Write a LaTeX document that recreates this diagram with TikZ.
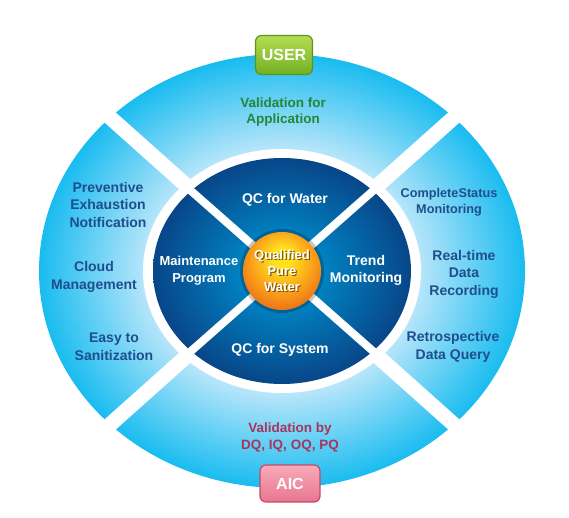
\documentclass[tikz,border=0pt]{standalone}
\usepackage{fontspec}
\setmainfont{Liberation Sans}
\usepackage{xcolor}
\usepackage{tikz}

\definecolor{ringlight}{RGB}{185,230,250}
\definecolor{ringdark}{RGB}{25,188,240}
\definecolor{corelight}{RGB}{0,130,194}
\definecolor{coredark}{RGB}{8,70,136}
\definecolor{balllight}{RGB}{255,226,30}
\definecolor{ballmid}{RGB}{248,150,25}
\definecolor{balldark}{RGB}{230,98,18}
\definecolor{labelblue}{RGB}{30,78,140}
\definecolor{labelgreen}{RGB}{35,135,55}
\definecolor{labelred}{RGB}{168,52,92}
\definecolor{usertop}{RGB}{180,220,82}
\definecolor{userbottom}{RGB}{116,176,36}
\definecolor{userrim}{RGB}{92,148,28}
\definecolor{aictop}{RGB}{248,170,184}
\definecolor{aicbottom}{RGB}{232,118,144}
\definecolor{aicrim}{RGB}{196,72,106}

\pgfdeclareradialshading{ringshade}{\pgfpointorigin}{color(0bp)=(ringlight); color(14bp)=(ringlight); color(25bp)=(ringdark); color(50bp)=(ringdark)}
\pgfdeclareradialshading{coreshade}{\pgfpointorigin}{color(0bp)=(corelight); color(8bp)=(corelight); color(25bp)=(coredark); color(50bp)=(coredark)}
\pgfdeclareradialshading{ballshade}{\pgfpoint{0bp}{10bp}}{color(0bp)=(balllight); color(6bp)=(balllight); color(22bp)=(ballmid); color(33bp)=(balldark); color(50bp)=(balldark)}

\begin{document}
\begin{tikzpicture}[x=1pt,y=1pt,
    sidelabel/.style={text=labelblue, align=center, font=\bfseries\fontsize{14}{17.5}\selectfont},
    corelabel/.style={text=white, align=center, font=\bfseries\fontsize{14}{17}\selectfont},
    balllabel/.style={align=center, font=\bfseries\fontsize{13}{16}\selectfont},
    button/.style={rounded corners=6, draw, line width=1.2, text=white, font=\bfseries\fontsize{16}{16}\selectfont}]
    \useasboundingbox (0,0) rectangle (569,518);
    \coordinate (c) at (282,247);

    % outer ring and gaps
    \shade[shading=ringshade] (c) ellipse [x radius=243, y radius=217];
    \draw[white, line width=15] (c) -- ++(45:262 and 234);
    \draw[white, line width=15] (c) -- ++(135:262 and 234);
    \draw[white, line width=15] (c) -- ++(225:262 and 234);
    \draw[white, line width=15] (c) -- ++(315:262 and 234);
    \fill[white] (c) ellipse [x radius=139, y radius=122];

    % inner disc
    \shade[shading=coreshade] (c) ellipse [x radius=129, y radius=113];
    \draw[white, line width=8] (c) -- ++(45:134 and 118);
    \draw[white, line width=8] (c) -- ++(135:134 and 118);
    \draw[white, line width=8] (c) -- ++(225:134 and 118);
    \draw[white, line width=8] (c) -- ++(315:134 and 118);

    % ball
    \fill[black, opacity=0.22] (c) circle (42);
    \shade[shading=ballshade] (c) circle (39);
    \node[balllabel, text=black!70!orange, text opacity=0.7] (purehalo) at (283.2,245.8) {Qualified\\Pure\\Water};
    \node[balllabel, text=white] (pure) at (282,247) {Qualified\\Pure\\Water};

    \node[corelabel] (qcwater) at (285,318) {QC for Water};
    \node[corelabel, font=\bfseries\fontsize{13}{17}\selectfont] (maint) at (199,247) {Maintenance\\Program};
    \node[corelabel] (trend) at (366,248) {Trend\\Monitoring};
    \node[corelabel] (qcsystem) at (280,168) {QC for System};

    % outer labels
    \node[text=labelgreen, align=center, font=\bfseries\fontsize{13.5}{16.5}\selectfont] (valapp) at (283,406) {Validation for\\Application};
    \node[text=labelred, align=center, font=\bfseries\fontsize{13.5}{17}\selectfont] (valdq) at (290,81) {Validation by\\DQ, IQ, OQ, PQ};
    \node[sidelabel] (prevent) at (108,313) {Preventive\\Exhaustion\\Notification};
    \node[sidelabel] (cloud) at (94,241) {Cloud\\Management};
    \node[sidelabel] (easy) at (114,171) {Easy to\\Sanitization};
    \node[sidelabel, font=\bfseries\fontsize{12.7}{16}\selectfont] (status) at (449,316) {CompleteStatus\\Monitoring};
    \node[sidelabel] (realtime) at (464,244) {Real-time\\Data\\Recording};
    \node[sidelabel] (retro) at (453,171) {Retrospective\\Data Query};

    % buttons
    \node[button, top color=usertop, bottom color=userbottom, draw=userrim, minimum width=57, minimum height=39] (user) at (284,463) {USER};
    \node[button, top color=aictop, bottom color=aicbottom, draw=aicrim, minimum width=60, minimum height=37] (aic) at (290,34.5) {AIC};
\end{tikzpicture}
\end{document}
